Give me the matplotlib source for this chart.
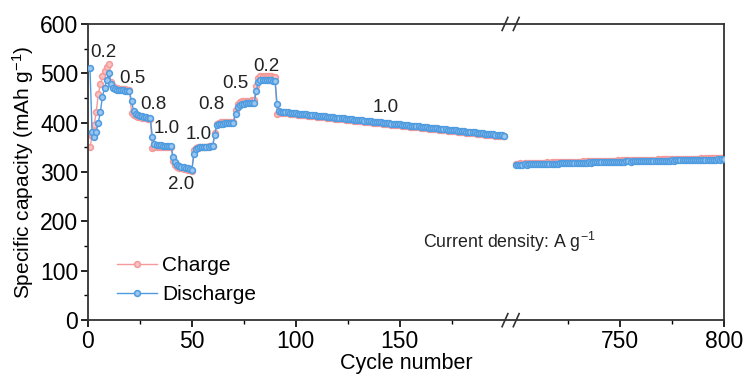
import numpy as np
import matplotlib
matplotlib.use("Agg")
import matplotlib.pyplot as plt
from matplotlib.ticker import FixedLocator, FixedFormatter
import matplotlib.transforms as mtransforms

plt.rcParams['font.family'] = ['Liberation Sans', 'DejaVu Sans']
plt.rcParams['mathtext.fontset'] = 'custom'
plt.rcParams['mathtext.rm'] = 'Liberation Sans'
plt.rcParams['mathtext.default'] = 'regular'

# ---- rate test + early cycling, cycles 1-200 ----
discharge_left = [
    510, 382, 371, 382, 400, 422, 453, 470, 486, 500,      # 0.2
    478, 470, 468, 467, 467, 466, 466, 465, 465, 464,      # 0.5
    443, 424, 418, 415, 414, 413, 412, 411, 410, 410,      # 0.8
    371, 357, 355, 354, 354, 353, 353, 353, 352, 352,      # 1.0
    331, 320, 315, 313, 311, 310, 309, 308, 307, 305,      # 2.0
    336, 347, 349, 350, 350, 351, 351, 351, 352, 352,      # 1.0
    375, 395, 397, 398, 398, 399, 399, 399, 400, 400,      # 0.8
    418, 432, 436, 437, 438, 439, 439, 440, 440, 440,      # 0.5
    465, 483, 486, 487, 487, 487, 486, 486, 485, 484,      # 0.2
    438, 424, 422, 422, 421, 421, 420, 420, 419, 419,      # 1.0
    418, 418, 417, 417, 417, 416, 416, 415, 415, 414,
    414, 413, 413, 413, 412, 412, 411, 411, 410, 410,
    409, 409, 409, 408, 408, 407, 407, 406, 406, 405,
    405, 405, 404, 404, 403, 403, 402, 402, 401, 401,
    401, 400, 400, 399, 399, 398, 398, 397, 397, 397,
    396, 396, 395, 395, 394, 394, 393, 393, 393, 392,
    392, 391, 391, 390, 390, 389, 389, 389, 388, 388,
    387, 387, 386, 386, 385, 385, 385, 384, 384, 383,
    383, 382, 382, 381, 381, 381, 380, 380, 379, 379,
    378, 378, 377, 377, 377, 376, 376, 375, 375, 374,
]
charge_left = [
    350, 372, 395, 422, 458, 478, 495, 505, 512, 519,
    482, 474, 471, 470, 469, 469, 468, 468, 467, 467,
    420, 416, 413, 412, 411, 410, 409, 409, 408, 408,
    349, 350, 351, 351, 351, 351, 351, 350, 350, 350,
    322, 314, 311, 309, 308, 307, 306, 305, 304, 303,
    345, 348, 350, 350, 351, 351, 351, 352, 352, 352,
    380, 398, 400, 401, 401, 401, 402, 402, 402, 402,
    425, 438, 441, 443, 443, 444, 444, 444, 445, 445,
    475, 490, 494, 495, 495, 495, 494, 494, 493, 492,
    418, 421, 420, 420, 419, 419, 418, 418, 417, 417,
    416, 416, 415, 415, 415, 414, 414, 413, 413, 412,
    412, 411, 411, 411, 410, 410, 409, 409, 408, 408,
    407, 407, 407, 406, 406, 405, 405, 404, 404, 403,
    403, 403, 402, 402, 401, 401, 400, 400, 399, 399,
    399, 398, 398, 397, 397, 396, 396, 395, 395, 395,
    394, 394, 393, 393, 392, 392, 391, 391, 391, 390,
    390, 389, 389, 388, 388, 387, 387, 387, 386, 386,
    385, 385, 384, 384, 383, 383, 383, 382, 382, 381,
    381, 380, 380, 379, 379, 379, 378, 378, 377, 377,
    376, 376, 375, 375, 375, 374, 374, 373, 373, 372,
]

# ---- long-term cycling, cycles 700-800 ----
discharge_right = [
    315, 315, 315, 315, 316, 315, 316, 316, 316, 316,
    316, 316, 317, 316, 317, 317, 317, 317, 317, 317,
    317, 318, 318, 318, 318, 318, 318, 318, 319, 319,
    319, 319, 319, 319, 319, 320, 319, 320, 320, 320,
    320, 320, 320, 320, 321, 321, 321, 321, 321, 321,
    321, 321, 321, 322, 322, 321, 322, 322, 322, 322,
    322, 322, 322, 322, 323, 323, 322, 323, 323, 323,
    323, 323, 323, 323, 323, 324, 323, 324, 324, 324,
    324, 324, 324, 324, 324, 324, 325, 324, 325, 325,
    325, 325, 325, 325, 325, 325, 325, 326, 325, 326,
    326,
]
charge_right = [
    317, 317, 318, 317, 318, 318, 318, 318, 319, 318,
    319, 319, 319, 319, 319, 320, 319, 320, 320, 320,
    320, 320, 320, 321, 320, 321, 321, 321, 321, 321,
    321, 321, 322, 321, 322, 322, 322, 322, 322, 322,
    322, 323, 322, 323, 323, 323, 323, 323, 323, 324,
    323, 324, 324, 324, 324, 324, 324, 324, 325, 324,
    325, 325, 325, 325, 325, 325, 325, 325, 326, 325,
    326, 326, 326, 326, 326, 326, 326, 326, 327, 326,
    327, 327, 327, 327, 327, 327, 327, 327, 327, 328,
    327, 328, 328, 328, 328, 328, 328, 328, 328, 328,
    328,
]

cycles_left = np.arange(1, len(discharge_left) + 1)
cycles_right = np.arange(700, 700 + len(discharge_right))

# current density labels (A g^-1) and their anchor cycles / capacities
rate_labels = ["0.2", "0.5", "0.8", "1.0", "2.0", "1.0", "0.8", "0.5", "0.2", "1.0"]
rate_label_cycle = [7.2, 21.6, 31.7, 38.0, 44.7, 53.4, 59.6, 70.7, 85.6, 143.0]
rate_label_cap = [543, 490, 436, 389, 274, 377, 436, 480, 513, 430]

x_ticks_major = [0, 50, 100, 150, 750, 800]
x_ticks_minor = [25, 75, 125, 175, 725, 775]

# broken x axis: cycles >= 700 are shifted left onto a compressed scale
BREAK_START = 700
BREAK_OFFSET = 206


def to_axis(c):
    c = np.asarray(c, dtype=float)
    return np.where(c >= BREAK_START, c - BREAK_START + BREAK_OFFSET, c)


fig = plt.figure(figsize=(7.45, 3.74), dpi=100)
ax = fig.add_axes([0.118, 0.144, 0.854, 0.792])

pink = '#F59A9A'
pink_face = '#F8C2C2'
blue = '#4E9BE0'
blue_face = '#9CC6EE'

style = dict(marker='o', markersize=4.2, markeredgewidth=1.1, linewidth=1.0)

for cyc, ch in ((cycles_left, charge_left), (cycles_right, charge_right)):
    ax.plot(to_axis(cyc), ch, color=pink, markerfacecolor=pink_face,
            markeredgecolor=pink, zorder=2, **style)
for cyc, dc in ((cycles_left, discharge_left), (cycles_right, discharge_right)):
    ax.plot(to_axis(cyc), dc, color=blue, markerfacecolor=blue_face,
            markeredgecolor=blue, zorder=3, **style)

# legend proxies
h_c, = ax.plot([], [], color=pink, markerfacecolor=pink_face,
               markeredgecolor=pink, **style)
h_d, = ax.plot([], [], color=blue, markerfacecolor=blue_face,
               markeredgecolor=blue, **style)
ax.legend([h_c, h_d], ["Charge", "Discharge"], loc='upper left',
          bbox_to_anchor=(0.046, 0.215), frameon=False, fontsize=15,
          handlelength=1.9, handletextpad=0.25, labelspacing=0.45,
          borderpad=0, borderaxespad=0)

for lab, cx, cy in zip(rate_labels, rate_label_cycle, rate_label_cap):
    ax.text(float(to_axis(cx)), cy, lab, ha='center', va='center',
            fontsize=13.5, color='#222222', zorder=5)

ax.text(161, 158, "Current density: A g$^{-1}$", ha='left', va='center',
        fontsize=12.8, color='#222222')

ax.set_xlim(0, float(to_axis(800)))
ax.set_ylim(0, 600)

ax.xaxis.set_major_locator(FixedLocator(to_axis(x_ticks_major)))
ax.xaxis.set_major_formatter(FixedFormatter([str(t) for t in x_ticks_major]))
ax.xaxis.set_minor_locator(FixedLocator(to_axis(x_ticks_minor)))
ax.set_yticks(np.arange(0, 601, 100))
ax.set_yticks(np.arange(50, 600, 100), minor=True)

ax.tick_params(axis='both', which='major', direction='out', length=5,
               width=1.2, labelsize=16.5, pad=2, top=False, right=False)
ax.tick_params(axis='both', which='minor', direction='out', length=3,
               width=1.0, top=False, right=False)
for s in ax.spines.values():
    s.set_linewidth(1.3)
    s.set_color('#333333')

ax.set_xlabel("Cycle number", fontsize=15.5, labelpad=0)
ax.set_ylabel("Specific capacity (mAh g$^{-1}$)", fontsize=15, labelpad=3)

# "//" break marks on top and bottom spines
trans = mtransforms.blended_transform_factory(ax.transData, ax.transAxes)
for xb in (200.6, 206.0):
    for yb in (0.0, 1.0):
        ax.plot([xb - 1.4, xb + 1.4], [yb - 0.022, yb + 0.022],
                color='#333333', lw=1.2, transform=trans, clip_on=False,
                zorder=6)

fig.savefig("out.png", dpi=100)
